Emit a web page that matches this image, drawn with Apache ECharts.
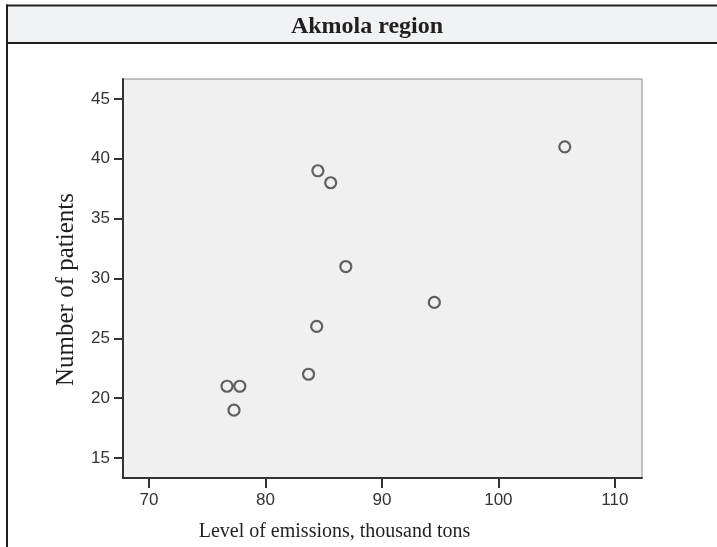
<!DOCTYPE html>
<html>
<head>
<meta charset="utf-8">
<script src="https://cdn.jsdelivr.net/npm/echarts@6/dist/echarts.min.js"></script>
<style>html,body{margin:0;padding:0;background:#fff;}#c{width:717px;height:547px;}</style>
</head>
<body>
<div id="c"></div>
<script>
const emissions = [105.7, 94.5, 86.9, 84.5, 85.6, 84.4, 83.7, 76.7, 77.8, 77.3];
const patients  = [41, 28, 31, 39, 38, 26, 22, 21, 21, 19];
const xTicks = [70, 80, 90, 100, 110];
const yTicks = [15, 20, 25, 30, 35, 40, 45];
const titleText = 'Akmola region';
const xName = 'Level of emissions, thousand tons';
const yName = 'Number of patients';

const points = emissions.map((x, i) => [x, patients[i]]);
const chart = echarts.init(document.getElementById('c'), null, {renderer: 'canvas'});
chart.setOption({
  animation: false,
  backgroundColor: '#ffffff',
  graphic: [
    {type: 'rect', shape: {x: 7, y: 5, width: 712, height: 38}, style: {fill: '#f1f2f4'}, z: -10},
    {type: 'line', shape: {x1: 6, y1: 5.5, x2: 717, y2: 5.5}, style: {stroke: '#231f20', lineWidth: 2}},
    {type: 'line', shape: {x1: 6, y1: 43, x2: 717, y2: 43}, style: {stroke: '#231f20', lineWidth: 2}},
    {type: 'line', shape: {x1: 7, y1: 4.5, x2: 7, y2: 547}, style: {stroke: '#231f20', lineWidth: 2}}
  ],
  title: {
    text: titleText, left: 362, top: 10, textAlign: 'center',
    textStyle: {fontFamily: 'Liberation Serif', fontWeight: 'bold', fontSize: 24, color: '#231f20'}
  },
  grid: {
    left: 123, top: 79, width: 519, height: 400,
    show: true, backgroundColor: '#f0f0f0', borderColor: '#8a8a8a', borderWidth: 1
  },
  xAxis: {
    type: 'value', min: 67.77, max: 112.33,
    name: xName, nameLocation: 'middle', nameGap: 44,
    nameTextStyle: {fontFamily: 'Liberation Serif', fontSize: 20, color: '#231f20', padding: [0, 96, 0, 0]},
    axisLine: {show: true, onZero: false, lineStyle: {color: '#333', width: 2}},
    axisTick: {show: true, customValues: xTicks, length: 10, lineStyle: {color: '#333', width: 2}},
    axisLabel: {customValues: xTicks, margin: 14, fontFamily: 'Liberation Sans', fontSize: 17, color: '#333'},
    splitLine: {show: false}
  },
  yAxis: {
    type: 'value', min: 13.333, max: 46.667,
    name: yName, nameLocation: 'middle', nameGap: 44, nameRotate: 90,
    nameTextStyle: {fontFamily: 'Liberation Serif', fontSize: 25, color: '#231f20', padding: [0, 22, 0, 0]},
    axisLine: {show: true, onZero: false, lineStyle: {color: '#333', width: 2}},
    axisTick: {show: true, customValues: yTicks, length: 9, lineStyle: {color: '#333', width: 2}},
    axisLabel: {customValues: yTicks, margin: 13, fontFamily: 'Liberation Sans', fontSize: 17, color: '#333'},
    splitLine: {show: false}
  },
  series: [{
    type: 'scatter', data: points, symbol: 'circle', symbolSize: 11,
    itemStyle: {color: 'rgba(0,0,0,0)', borderColor: '#3c3c3c', borderWidth: 2.2},
    emphasis: {disabled: true}
  }]
});
</script>
</body>
</html>
